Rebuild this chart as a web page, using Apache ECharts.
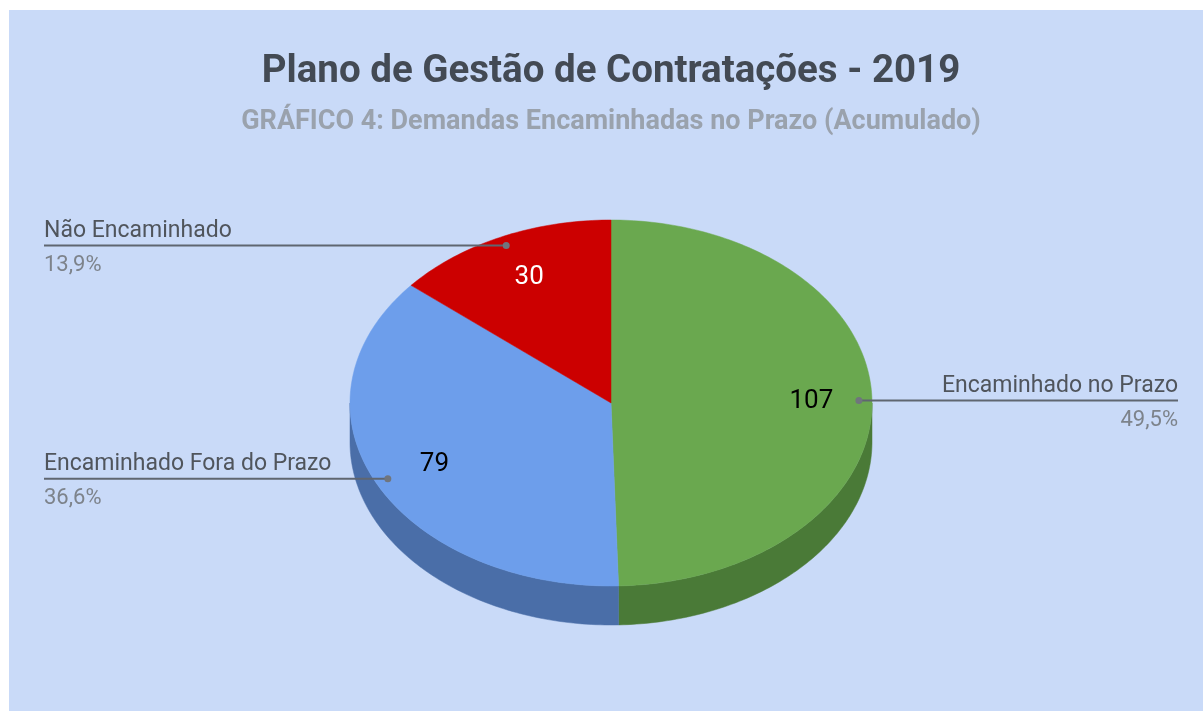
<!DOCTYPE html>
<html>
<head>
<meta charset="utf-8">
<title>Plano de Gestão de Contratações - 2019</title>
<script src="https://cdn.jsdelivr.net/npm/echarts@6/dist/echarts.min.js"></script>
<style>
  html, body { margin: 0; padding: 0; background: #ffffff; }
  #chart {
    position: absolute;
    left: 9px;
    top: 10px;
    width: 1194px;
    height: 701px;
    background: #c9daf8;
  }
</style>
</head>
<body>
<div id="chart"></div>
<script>
// dados do gráfico
const categories = ['Encaminhado no Prazo', 'Encaminhado Fora do Prazo', 'Não Encaminhado']
const values = [107, 79, 30]
const topColors = ['#6aa84f', '#6d9eeb', '#cc0000']
const sideColors = ['#4a7a37', '#4a6ea8', '#8f0000']
const valueColors = ['#000000', '#000000', '#ffffff']

// geometria do "pie 3D" (em px, relativo ao container)
const cx = 602
const cy = 393
const rx = 261
const ry = 183
const depth = 39
const labelLeftX = 35
const labelRightX = 1169

const total = values.reduce((a, b) => a + b, 0)
const deg = Math.PI / 180

const pt = (t, dy = 0, f = 1) => [cx + f * rx * Math.sin(t * deg), cy - f * ry * Math.cos(t * deg) + dy]

const arcPoints = (a0, a1, dy = 0) => {
  const pts = []
  const steps = Math.max(2, Math.ceil(Math.abs(a1 - a0)))
  for (let i = 0; i <= steps; i++) {
    pts.push(pt(a0 + (a1 - a0) * i / steps, dy))
  }
  return pts
}

const fmtPct = (v) => (v / total * 100).toFixed(1).replace('.', ',') + '%'

const renderItem = (params, api) => {
  const idx = params.dataIndex
  const val = api.value(0)
  let before = 0
  for (let i = 0; i < idx; i++) before += values[i]
  const a0 = before / total * 360
  const a1 = (before + val) / total * 360
  const mid = (a0 + a1) / 2
  const children = []

  // parede lateral (só a metade da frente aparece)
  const lo = Math.max(a0, 90)
  const hi = Math.min(a1, 270)
  if (hi > lo) {
    const pts = arcPoints(lo, hi).concat(arcPoints(hi, lo, depth))
    children.push({
      type: 'polygon',
      z2: 0,
      shape: { points: pts },
      style: { fill: sideColors[idx], stroke: sideColors[idx], lineWidth: 0.5 }
    })
  }

  // face de cima
  children.push({
    type: 'polygon',
    z2: 1,
    shape: { points: [[cx, cy]].concat(arcPoints(a0, a1)) },
    style: { fill: topColors[idx], stroke: topColors[idx], lineWidth: 0.5 }
  })

  // valor dentro da fatia
  const vp = pt(mid, 0, 0.76)
  children.push({
    type: 'text',
    z2: 3,
    style: {
      text: String(val),
      x: vp[0] + 2,
      y: vp[1] + 1,
      align: 'center',
      verticalAlign: 'middle',
      fill: valueColors[idx],
      font: '26px Roboto'
    }
  })

  // linha de chamada + rótulo
  const dp = pt(mid, 0, 0.95)
  const right = Math.sin(mid * deg) > 0
  const endX = right ? labelRightX : labelLeftX
  children.push({
    type: 'line',
    z2: 2,
    shape: { x1: dp[0], y1: dp[1], x2: endX, y2: dp[1] },
    style: { stroke: '#5f6670', lineWidth: 2 }
  })
  children.push({
    type: 'circle',
    z2: 2,
    shape: { cx: dp[0], cy: dp[1], r: 3.5 },
    style: { fill: '#70757d' }
  })
  children.push({
    type: 'text',
    z2: 3,
    style: {
      text: categories[idx],
      x: endX,
      y: dp[1] - 3,
      align: right ? 'right' : 'left',
      verticalAlign: 'bottom',
      fill: '#50555c',
      font: '23px Roboto'
    }
  })
  children.push({
    type: 'text',
    z2: 3,
    style: {
      text: fmtPct(val),
      x: endX,
      y: dp[1] + 9,
      align: right ? 'right' : 'left',
      verticalAlign: 'top',
      fill: '#7d838b',
      font: '22px Roboto'
    }
  })

  return { type: 'group', children }
}

const chart = echarts.init(document.getElementById('chart'))
chart.setOption({
  animation: false,
  title: {
    text: 'Plano de Gestão de Contratações - 2019',
    subtext: 'GRÁFICO 4: Demandas Encaminhadas no Prazo (Acumulado)',
    left: 597,
    textAlign: 'center',
    top: 38,
    itemGap: 17,
    textStyle: { fontFamily: 'Roboto', fontWeight: 'bold', fontSize: 38.5, color: '#434a54' },
    subtextStyle: { fontFamily: 'Roboto', fontWeight: 'bold', fontSize: 27, color: '#9aa2ad' }
  },
  series: [
    {
      type: 'custom',
      coordinateSystem: 'none',
      silent: true,
      renderItem,
      data: values.map((v) => [v])
    }
  ]
})

window.addEventListener('resize', () => chart.resize())
</script>
</body>
</html>
